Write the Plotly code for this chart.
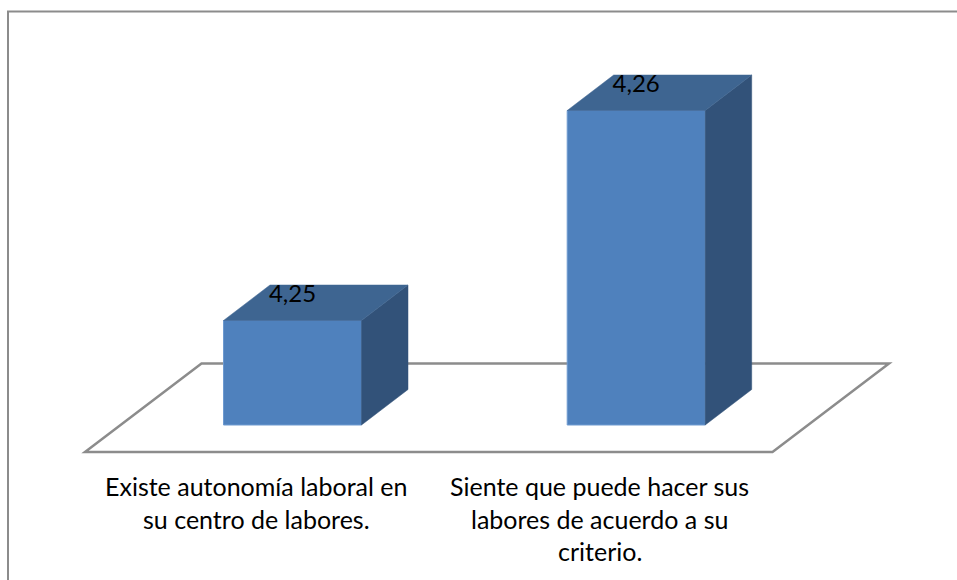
import plotly.graph_objects as go

# --- data ---
categories = [
    ["Existe autonomía laboral en", "su centro de labores."],
    ["Siente que puede hacer sus", "labores de acuerdo a su", "criterio."],
]
values = [4.25, 4.26]
value_labels = ["4,25", "4,26"]
positions = [1, 2]

# --- scale: figure pixels <-> data units ---
W, H = 957, 580
PX_PER_CAT = 343.7
PX_PER_VAL = 21000.0
X0_PX, Y0_PX = 292.5, 320.5      # pixel of category 1 / value 4.25


def dx(px):
    return px / PX_PER_CAT


def dy(px):
    return px / PX_PER_VAL


x_range = [1 - dx(X0_PX), 1 + dx(W - X0_PX)]
y_range = [4.25 - dy(H - Y0_PX), 4.25 + dy(Y0_PX)]

base = 4.25 - dy(104.5)          # value of the bars' foot
bar_w = dx(138)
depth_x, depth_y = dx(46.5), dy(35.5)

FONT = "Lato"
FRONT, TOP, SIDE = "#4F81BD", "#3E6591", "#325279"
GRAY = "#8C8C8C"

fig = go.Figure()

# floor of the 3-D plot, behind every mark
fx0 = 1 + dx(85 - X0_PX)
fx1 = 1 + dx(772.5 - X0_PX)
fy0 = base - dy(27)
fdx, fdy = dx(116.5), dy(88.5)
fig.add_shape(
    type="path",
    xref="x", yref="y",
    layer="below",
    path=(f"M {fx0} {fy0} L {fx1} {fy0} L {fx1 + fdx} {fy0 + fdy} "
          f"L {fx0 + fdx} {fy0 + fdy} Z"),
    line=dict(color=GRAY, width=2.5),
    fillcolor="#FFFFFF",
)

# chart frame (only top and left sides are in view)
fig.add_shape(type="line", xref="paper", yref="paper",
              x0=8 / W, x1=8 / W, y0=0, y1=1 - 11.5 / H,
              line=dict(color=GRAY, width=2))
fig.add_shape(type="line", xref="paper", yref="paper",
              x0=7 / W, x1=1, y0=1 - 11.5 / H, y1=1 - 11.5 / H,
              line=dict(color=GRAY, width=2))

# front faces
fig.add_trace(go.Bar(
    x=positions,
    y=[v - base for v in values],
    base=base,
    width=bar_w,
    marker=dict(color=FRONT, line=dict(color="#6E9AD0", width=1)),
    hoverinfo="skip",
))

# side and top faces derived from the same values
for p, v in zip(positions, values):
    xl, xr = p - bar_w / 2, p + bar_w / 2
    fig.add_trace(go.Scatter(
        x=[xr, xr + depth_x, xr + depth_x, xr, xr],
        y=[base, base + depth_y, v + depth_y, v, base],
        mode="lines", fill="toself", fillcolor=SIDE,
        line=dict(color=SIDE, width=0.5), hoverinfo="skip",
    ))
    fig.add_trace(go.Scatter(
        x=[xl, xr, xr + depth_x, xl + depth_x, xl],
        y=[v, v, v + depth_y, v + depth_y, v],
        mode="lines", fill="toself", fillcolor=TOP,
        line=dict(color=TOP, width=0.5), hoverinfo="skip",
    ))

# data labels
fig.add_trace(go.Scatter(
    x=positions,
    y=[v + dy(25) for v in values],
    mode="text",
    text=value_labels,
    textposition="middle center",
    textfont=dict(family=FONT, size=24, color="#000000"),
    hoverinfo="skip",
))

# category labels, one line at a time for exact leading
LABEL_SHIFT = dx(36.5)
FIRST_LINE = base - dy(61)
LEADING = dy(32.5)
for p, lines in zip(positions, categories):
    for i, line in enumerate(lines):
        fig.add_annotation(
            x=p - LABEL_SHIFT, y=FIRST_LINE - i * LEADING,
            xref="x", yref="y",
            text=line, showarrow=False,
            xanchor="center", yanchor="middle",
            font=dict(family=FONT, size=25, color="#000000"),
        )

fig.update_layout(
    width=W, height=H,
    margin=dict(l=0, r=0, t=0, b=0),
    paper_bgcolor="#FFFFFF",
    plot_bgcolor="#FFFFFF",
    showlegend=False,
    xaxis=dict(range=x_range, visible=False, fixedrange=True),
    yaxis=dict(range=y_range, visible=False, fixedrange=True),
)

fig.write_html(
    "out.html",
    config={"displayModeBar": False},
    post_script="document.body.style.margin='0';document.body.style.overflow='hidden';",
)
